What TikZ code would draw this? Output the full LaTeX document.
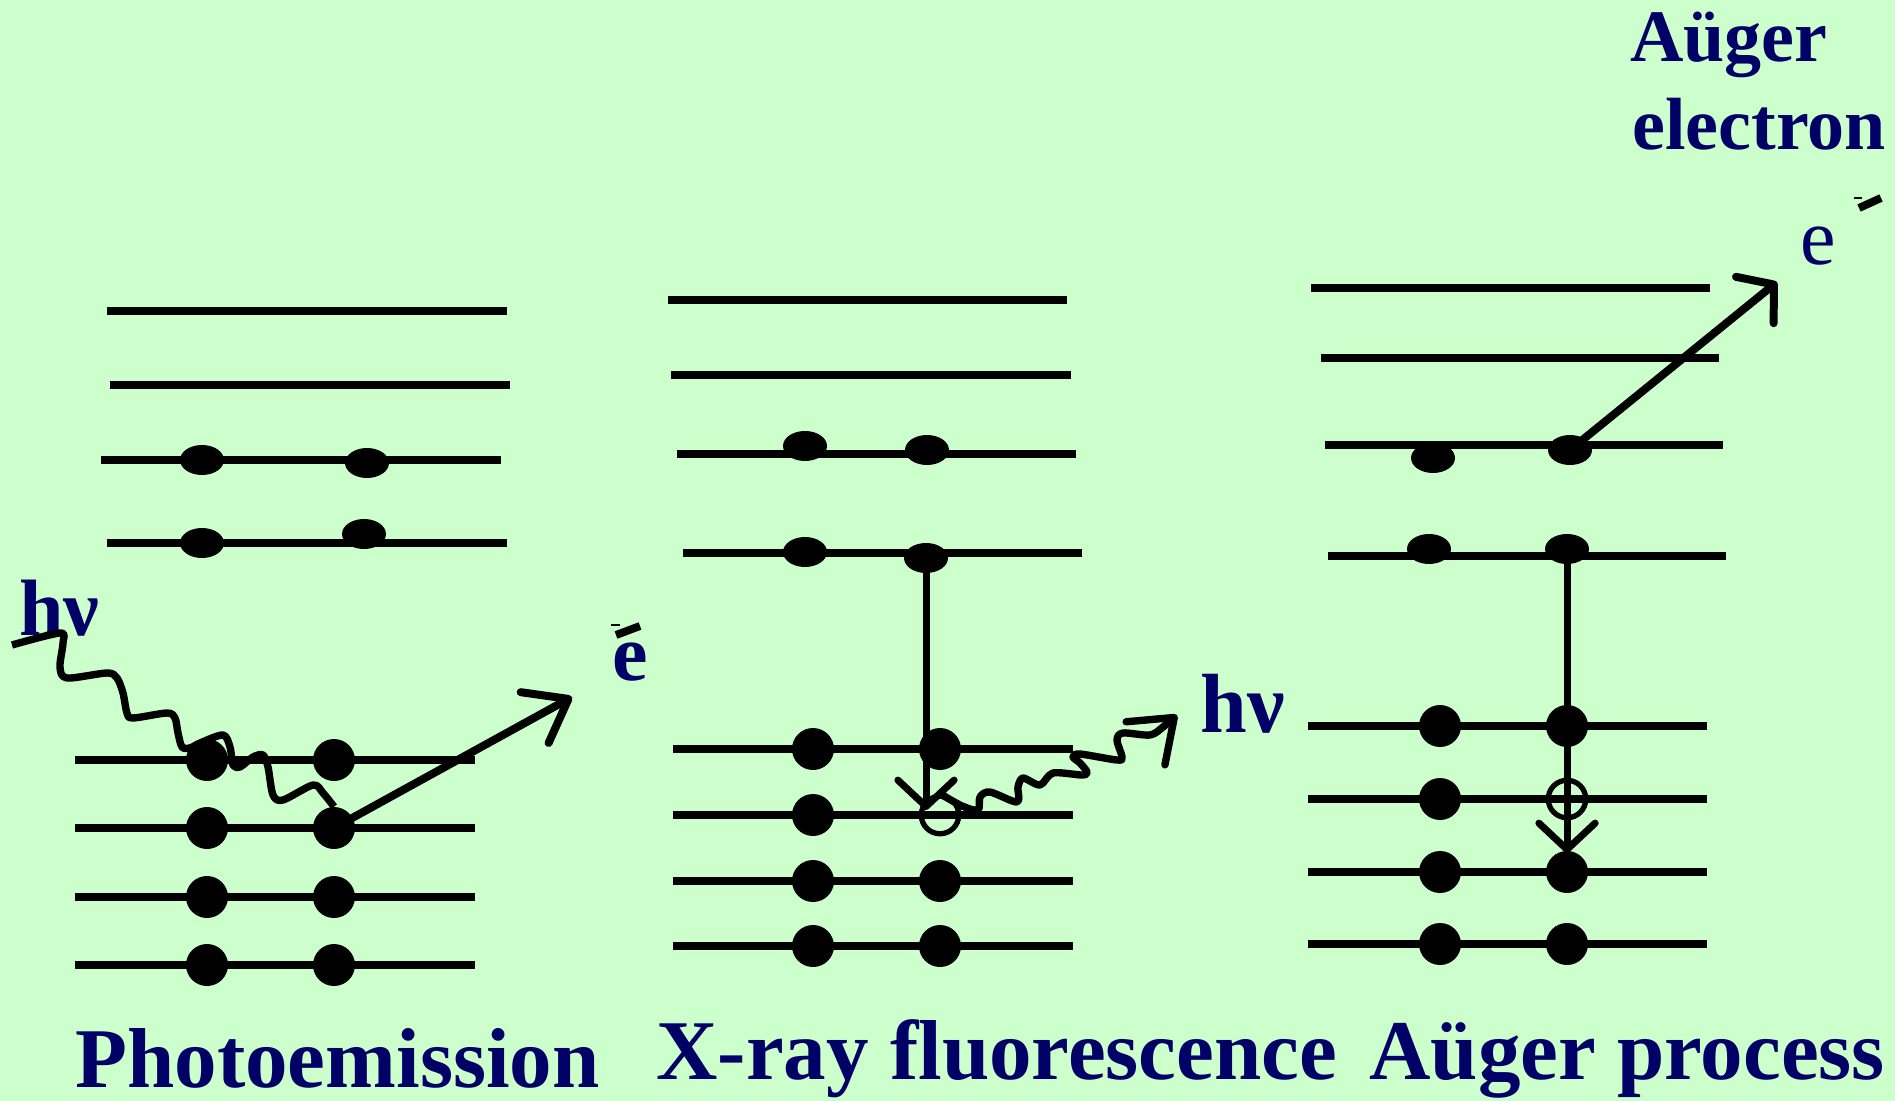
\documentclass[tikz,border=0pt]{standalone}
\usepackage{fontspec}
\setmainfont{Liberation Serif}
\usetikzlibrary{arrows.meta,shapes.geometric}
\definecolor{paper}{RGB}{204,255,204}
\definecolor{ink}{RGB}{0,0,102}
\begin{document}
\begin{tikzpicture}[x=0.02cm,y=-0.02cm,
  level/.style={line width=4.55pt},
  core/.style={circle,fill=black,inner sep=0pt,minimum size=0.84cm},
  outer/.style={ellipse,fill=black,inner sep=0pt,minimum width=0.88cm,minimum height=0.6cm},
  hole/.style={circle,draw=black,line width=3pt,inner sep=0pt,minimum size=0.75cm},
  ray/.style={line width=4.55pt},
  drop/.style={line width=4pt},
  wave/.style={line width=4.2pt},
  title/.style={font=\fontsize{48.4}{58}\selectfont\bfseries,text=ink,inner sep=0pt,anchor=base west},
  tag/.style={font=\fontsize{42.1}{50}\selectfont\bfseries,text=ink,inner sep=0pt,anchor=base west},
  chargebar/.style={line width=4.5pt},
  tipout/.style={-{Straight Barb[length=22pt,width=33pt,round]}},
  tipaug/.style={-{Straight Barb[length=14pt,width=34pt,round]}},
  tipdown/.style={-{Straight Barb[length=15pt,width=32pt,round]}}
]
% background
\fill[paper] (0,0) rectangle (1895,1101);

% ---------- Photoemission ----------
\draw[level] (107,311) -- (507,311);
\draw[level] (110,385) -- (510,385);
\draw[level] (101,460) -- (501,460);
\draw[level] (107,543) -- (507,543);
\foreach \y in {760,828,897,965} \draw[level] (75,\y) -- (475,\y);
\node[outer] (po1a) at (202,460) {};
\node[outer] (po1b) at (367,463) {};
\node[outer] (po2a) at (202,543) {};
\node[outer] (po2b) at (364,534) {};
\foreach \y/\n in {760/1,828/2,897/3,965/4}{
  \node[core] (pa\n) at (207,\y) {};
  \node[core] (pb\n) at (334,\y) {};
}
\node[font=\fontsize{45.5}{54}\selectfont\bfseries,text=ink,inner sep=0pt,anchor=base west] (phin) at (19,635) {hν};
\coordinate (phstart) at (12,645);
\draw[wave,line join=round] plot[smooth,tension=0.5] coordinates {(phstart) (60,633) (63,643) (60,667) (67,678) (107,673) (117,678) (123,693) (127,713) (133,718) (167,713) (175,718) (178,733) (182,747) (190,748) (200,743) (223,735) (230,747) (233,765) (240,767) (253,757) (263,755) (268,767) (273,795) (283,800) (313,785) (323,793) (pb2.north)};
\coordinate (petip) at (572,697);
\draw[ray,tipout] (pb2.center) -- (petip);
\node[font=\fontsize{45.5}{54}\selectfont\bfseries,text=ink,inner sep=0pt,anchor=base west] (pe) at (612,680) {e};
\draw[chargebar] (616,635) -- (640,626);
\draw[line width=0.6pt] (611,625) -- (620,625);
\node[title] (tphoto) at (75,1087) {Photoemission};

% ---------- X-ray fluorescence ----------
\draw[level] (668,300) -- (1067,300);
\draw[level] (671,375) -- (1071,375);
\draw[level] (677,454) -- (1076,454);
\draw[level] (683,553) -- (1082,553);
\foreach \y in {749,815,881,946} \draw[level] (673,\y) -- (1073,\y);
\node[outer] (xo1a) at (805,446) {};
\node[outer] (xo1b) at (927,450) {};
\node[outer] (xo2a) at (805,552) {};
\node[outer] (xo2b) at (926,558) {};
\foreach \y/\n in {749/1,815/2,881/3,946/4}{
  \node[core] (xa\n) at (813,\y) {};
}
\node[core] (xb1) at (940,749) {};
\node[hole] (xh) at (940,815) {};
\node[core] (xb3) at (940,881) {};
\node[core] (xb4) at (940,946) {};
\coordinate (xdrop) at (926,810);
\draw[drop,tipdown] (xo2b.center) -- (xdrop);
\coordinate (xptip) at (1177,715);
\draw[wave,line join=round,tipout] plot[smooth,tension=0.5] coordinates {(xh.north) (962,806) (978,810) (980,797) (990,792) (1017,802) (1018,787) (1023,778) (1040,785) (1053,773) (1082,775) (1087,772) (1080,763) (1073,757) (1080,754) (1117,760) (1122,757) (1117,740) (1123,733) (1150,735) (1163,727) (xptip)};
\node[font=\fontsize{47.8}{56}\selectfont\bfseries,text=ink,inner sep=0pt,anchor=base west] (xhv) at (1200,732) {hν};
\node[title] (txrf) at (656,1079) {X-ray fluorescence};

% ---------- Auger process ----------
\draw[level] (1311,288) -- (1710,288);
\draw[level] (1321,358) -- (1719,358);
\draw[level] (1325,445) -- (1723,445);
\draw[level] (1328,556) -- (1726,556);
\foreach \y in {726,799,872,944} \draw[level] (1308,\y) -- (1707,\y);
\node[outer] (ao1a) at (1433,458) {};
\node[outer] (ao1b) at (1570,450) {};
\node[outer] (ao2a) at (1429,549) {};
\node[outer] (ao2b) at (1567,549) {};
\foreach \y/\n in {726/1,799/2,872/3,944/4}{
  \node[core] (aa\n) at (1440,\y) {};
}
\node[core] (ab1) at (1567,726) {};
\node[hole] (ah) at (1567,799) {};
\node[core] (ab3) at (1567,872) {};
\node[core] (ab4) at (1567,944) {};
\coordinate (adrop) at (1567,853);
\draw[drop,tipdown] (ao2b.center) -- (adrop);
\coordinate (aetip) at (1777,282);
\draw[ray,tipaug] (ao1b.center) -- (aetip);
\node[font=\fontsize{45.5}{54}\selectfont,text=ink,inner sep=0pt,anchor=base west] (ae) at (1800,265) {e};
\draw[chargebar] (1859,208) -- (1881,198);
\draw[line width=0.6pt] (1854,198) -- (1862,198);
\node[tag] (aug1) at (1630,62) {Aüger};
\node[tag] (aug2) at (1632,150) {electron};
\node[title] (taug) at (1369,1079) {Aüger process};
\end{tikzpicture}
\end{document}
